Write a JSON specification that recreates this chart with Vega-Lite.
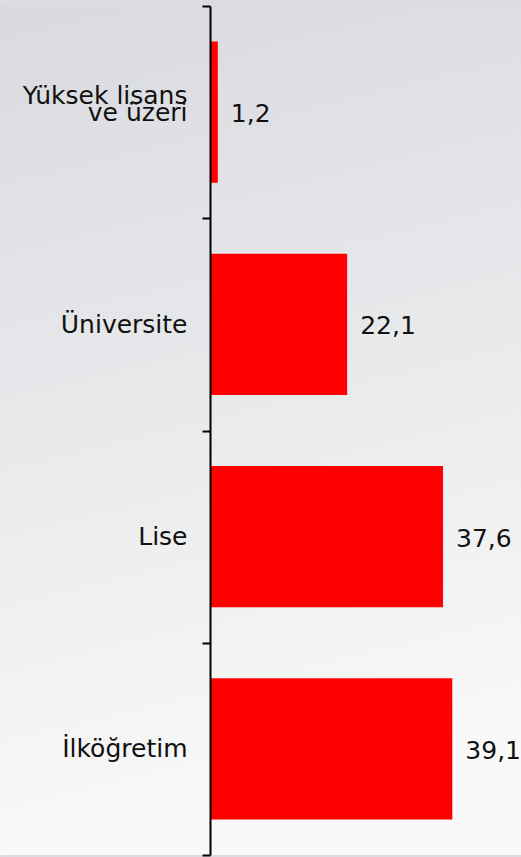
{
  "$schema": "https://vega.github.io/schema/vega-lite/v6.json",
  "width": 521,
  "height": 849,
  "autosize": {"type": "none"},
  "padding": {"top": 6, "bottom": 2, "left": 0, "right": 0},
  "background": "#dcdde1",
  "config": {"view": {"stroke": null}},
  "data": {
    "values": [
      {"kategori": "Yüksek lisans ve üzeri", "deger": 1.2, "etiket": "1,2"},
      {"kategori": "Üniversite", "deger": 22.1, "etiket": "22,1"},
      {"kategori": "Lise", "deger": 37.6, "etiket": "37,6"},
      {"kategori": "İlköğretim", "deger": 39.1, "etiket": "39,1"}
    ]
  },
  "layer": [
    {
      "data": {"values": [{}]},
      "mark": {
        "type": "rect",
        "color": {
          "gradient": "linear",
          "x1": 0, "y1": 0, "x2": 0.15, "y2": 1,
          "stops": [
            {"offset": 0, "color": "#d9dadf"},
            {"offset": 0.5, "color": "#e8e9eb"},
            {"offset": 1, "color": "#f9f9f9"}
          ]
        }
      },
      "encoding": {}
    },
    {
      "mark": {"type": "bar", "color": "#ff0000", "height": {"band": 0.665}},
      "encoding": {
        "y": {
          "field": "kategori",
          "type": "nominal",
          "sort": null,
          "scale": {"paddingInner": 0, "paddingOuter": 0},
          "axis": {
            "title": null,
            "offset": -210,
            "zindex": 1,
            "tickBand": "extent",
            "domainColor": "#000000",
            "domainWidth": 2,
            "tickColor": "#000000",
            "tickWidth": 2,
            "tickSize": 8,
            "labelFont": "DejaVu Sans",
            "labelFontSize": 25,
            "labelColor": "#111111",
            "labelPadding": 15,
            "labelLineHeight": 17,
            "labelOffset": -17,
            "labelExpr": "datum.label == 'Yüksek lisans ve üzeri' ? ['Yüksek lisans', '\u00a0', 've üzeri'] : ['\u00a0', datum.label]"
          }
        },
        "x": {
          "field": "deger",
          "type": "quantitative",
          "scale": {"domain": [-34, 50.2], "nice": false, "zero": false},
          "axis": null
        }
      }
    },
    {
      "mark": {
        "type": "text",
        "align": "left",
        "baseline": "middle",
        "dx": 13,
        "dy": 2,
        "font": "DejaVu Sans",
        "fontSize": 25,
        "color": "#111111"
      },
      "encoding": {
        "y": {"field": "kategori", "type": "nominal", "sort": null, "band": 0.5},
        "x": {"field": "deger", "type": "quantitative"},
        "text": {"field": "etiket"}
      }
    }
  ]
}
